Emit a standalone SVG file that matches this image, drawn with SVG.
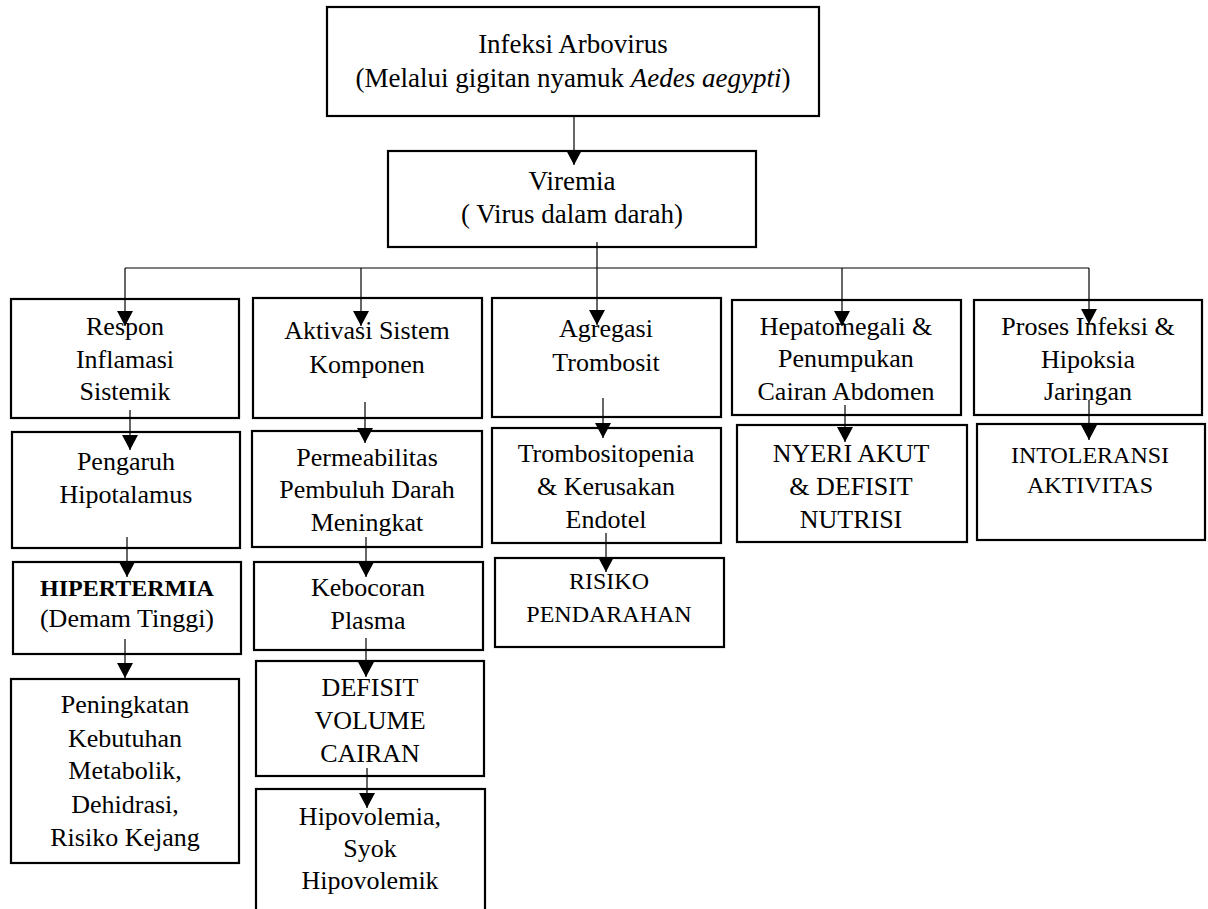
<svg xmlns="http://www.w3.org/2000/svg" width="1208" height="909" viewBox="0 0 1208 909">
<style>
  .box { fill: #ffffff; stroke: #000000; stroke-width: 2.2; }
  .t { font-family: "Liberation Serif", "Times New Roman", serif; font-size: 26px; fill: #000; text-anchor: middle; }
  .tt { font-size: 27px; }
  .sm { font-size: 24px; }
  .b { font-weight: bold; font-size: 24px; }
  .i { font-style: italic; }
  .c { fill: none; stroke: #000; stroke-width: 1.2; }
</style>
<defs>
  <marker id="ah" markerUnits="userSpaceOnUse" markerWidth="16" markerHeight="16" viewBox="0 0 15 16" refX="15" refY="8" orient="auto">
    <path d="M0,0 L15,8 L0,16 z" fill="#000"/>
  </marker>
</defs>
<rect width="1208" height="909" fill="#fff"/>

<g id="n-infeksi">
  <rect class="box" x="327" y="7" width="492" height="109"/>
  <text class="t tt" x="573" y="53">Infeksi Arbovirus</text>
  <text class="t tt" x="573" y="87">(Melalui gigitan nyamuk <tspan class="i">Aedes aegypti</tspan>)</text>
</g>
<g id="n-viremia">
  <rect class="box" x="388" y="151" width="368" height="96"/>
  <text class="t tt" x="572" y="190">Viremia</text>
  <text class="t tt" x="572" y="223">( Virus dalam darah)</text>
</g>

<g id="n-respon">
  <rect class="box" x="11" y="299" width="228" height="119"/>
  <text class="t" x="125" y="335">Respon</text>
  <text class="t" x="125" y="368">Inflamasi</text>
  <text class="t" x="125" y="400">Sistemik</text>
</g>
<g id="n-pengaruh">
  <rect class="box" x="12" y="432" width="228" height="116"/>
  <text class="t" x="126" y="470">Pengaruh</text>
  <text class="t" x="126" y="503">Hipotalamus</text>
</g>
<g id="n-hipertermia">
  <rect class="box" x="13" y="562" width="228" height="92"/>
  <text class="t b" x="127" y="596">HIPERTERMIA</text>
  <text class="t" x="127" y="627">(Demam Tinggi)</text>
</g>
<g id="n-peningkatan">
  <rect class="box" x="11" y="679" width="228" height="184"/>
  <text class="t" x="125" y="713">Peningkatan</text>
  <text class="t" x="125" y="747">Kebutuhan</text>
  <text class="t" x="125" y="779">Metabolik,</text>
  <text class="t" x="125" y="813">Dehidrasi,</text>
  <text class="t" x="125" y="846">Risiko Kejang</text>
</g>

<g id="n-aktivasi">
  <rect class="box" x="253" y="298" width="229" height="120"/>
  <text class="t" x="367" y="339">Aktivasi Sistem</text>
  <text class="t" x="367" y="373">Komponen</text>
</g>
<g id="n-permeabilitas">
  <rect class="box" x="252" y="431" width="230" height="116"/>
  <text class="t" x="367" y="466">Permeabilitas</text>
  <text class="t" x="367" y="498">Pembuluh Darah</text>
  <text class="t" x="367" y="531">Meningkat</text>
</g>
<g id="n-kebocoran">
  <rect class="box" x="254" y="562" width="229" height="88"/>
  <text class="t" x="368" y="596">Kebocoran</text>
  <text class="t" x="368" y="629">Plasma</text>
</g>
<g id="n-defisit-volume">
  <rect class="box" x="256" y="661" width="228" height="115"/>
  <text class="t" x="370" y="696">DEFISIT</text>
  <text class="t" x="370" y="729">VOLUME</text>
  <text class="t" x="370" y="762">CAIRAN</text>
</g>
<g id="n-hipovolemia">
  <rect class="box" x="256" y="789" width="229" height="130"/>
  <text class="t" x="370" y="825">Hipovolemia,</text>
  <text class="t" x="370" y="857">Syok</text>
  <text class="t" x="370" y="889">Hipovolemik</text>
</g>

<g id="n-agregasi">
  <rect class="box" x="492" y="298" width="229" height="119"/>
  <text class="t" x="606" y="337">Agregasi</text>
  <text class="t" x="606" y="371">Trombosit</text>
</g>
<g id="n-trombositopenia">
  <rect class="box" x="492" y="428" width="229" height="115"/>
  <text class="t" x="606" y="462">Trombositopenia</text>
  <text class="t" x="606" y="495">&amp; Kerusakan</text>
  <text class="t" x="606" y="528">Endotel</text>
</g>
<g id="n-risiko">
  <rect class="box" x="495" y="558" width="229" height="89"/>
  <text class="t sm" x="609" y="589">RISIKO</text>
  <text class="t sm" x="609" y="622">PENDARAHAN</text>
</g>

<g id="n-hepatomegali">
  <rect class="box" x="732" y="300" width="229" height="115"/>
  <text class="t" x="846" y="335">Hepatomegali &amp;</text>
  <text class="t" x="846" y="367">Penumpukan</text>
  <text class="t" x="846" y="400">Cairan Abdomen</text>
</g>
<g id="n-nyeri">
  <rect class="box" x="737" y="425" width="230" height="117"/>
  <text class="t" x="851" y="462">NYERI AKUT</text>
  <text class="t" x="851" y="495">&amp; DEFISIT</text>
  <text class="t" x="851" y="528">NUTRISI</text>
</g>

<g id="n-proses">
  <rect class="box" x="974" y="300" width="228" height="115"/>
  <text class="t" x="1088" y="335">Proses Infeksi &amp;</text>
  <text class="t" x="1088" y="368">Hipoksia</text>
  <text class="t" x="1088" y="400">Jaringan</text>
</g>
<g id="n-intoleransi">
  <rect class="box" x="977" y="424" width="228" height="116"/>
  <text class="t sm" x="1090" y="463">INTOLERANSI</text>
  <text class="t sm" x="1090" y="493">AKTIVITAS</text>
</g>

<g id="connectors">
  <line class="c" x1="574" y1="116" x2="574" y2="165" marker-end="url(#ah)"/>
  <line class="c" x1="125" y1="268" x2="1089" y2="268"/>
  <line class="c" x1="597" y1="242" x2="597" y2="325" marker-end="url(#ah)"/>
  <line class="c" x1="125" y1="268" x2="125" y2="326" marker-end="url(#ah)"/>
  <line class="c" x1="361" y1="268" x2="361" y2="326" marker-end="url(#ah)"/>
  <line class="c" x1="842" y1="268" x2="842" y2="326" marker-end="url(#ah)"/>
  <line class="c" x1="1089" y1="268" x2="1089" y2="324" marker-end="url(#ah)"/>
  <line class="c" x1="130" y1="410" x2="130" y2="450" marker-end="url(#ah)"/>
  <line class="c" x1="127" y1="537" x2="127" y2="577" marker-end="url(#ah)"/>
  <line class="c" x1="125" y1="639" x2="125" y2="678" marker-end="url(#ah)"/>
  <line class="c" x1="365" y1="402" x2="365" y2="443" marker-end="url(#ah)"/>
  <line class="c" x1="366" y1="537" x2="366" y2="577" marker-end="url(#ah)"/>
  <line class="c" x1="366" y1="638" x2="366" y2="677" marker-end="url(#ah)"/>
  <line class="c" x1="367" y1="768" x2="367" y2="808" marker-end="url(#ah)"/>
  <line class="c" x1="603" y1="398" x2="603" y2="438" marker-end="url(#ah)"/>
  <line class="c" x1="606" y1="533" x2="606" y2="572" marker-end="url(#ah)"/>
  <line class="c" x1="845" y1="405" x2="845" y2="442" marker-end="url(#ah)"/>
  <line class="c" x1="1089" y1="400" x2="1089" y2="440" marker-end="url(#ah)"/>
</g>
</svg>
